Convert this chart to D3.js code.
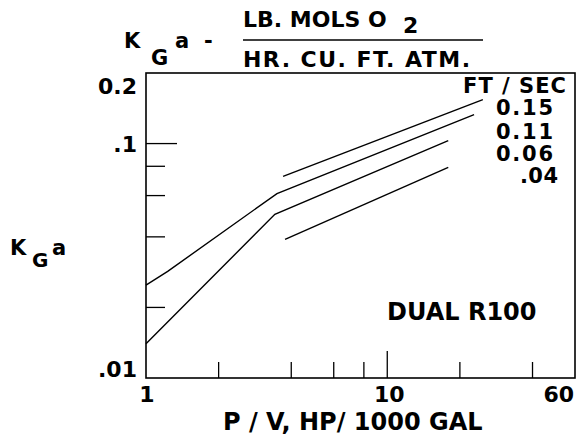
<!DOCTYPE html>
<html>
<head>
<meta charset="utf-8">
<script src="https://cdn.jsdelivr.net/npm/d3@7"></script>
<style>
  body { margin: 0; background: #fff; }
  svg text { font-family: "DejaVu Sans", sans-serif; font-weight: bold; fill: #000; }
</style>
</head>
<body>
<script>
// gas velocity, ft/sec
var velocities = ["0.15", "0.11", "0.06", ".04"];
// P/V (HP/1000 gal) vs KGa
var s015 = [[3.70, 0.0724], [24.9, 0.154]];
var s011 = [[1, 0.0249], [1.23, 0.0285], [3.49, 0.0612], [22.9, 0.133]];
var s006 = [[1, 0.0140], [3.42, 0.0499], [17.9, 0.103]];
var s004 = [[3.77, 0.0390], [17.9, 0.0791]];
var series = [s015, s011, s006, s004];

var xTicks = [2, 4, 6, 8, 10, 20, 40],
    yTicks = [0.02, 0.04, 0.06, 0.08, 0.1];
var xLabelVals = [1, 10, 60],
    xLabelText = ["1", "10", "60"];
var yLabelVals = [0.2, 0.1, 0.01],
    yLabelText = ["0.2", ".1", ".01"];

var width = 581, height = 438;
var plot = {left: 146, right: 575, top: 73, bottom: 378};

var svg = d3.select("body").append("svg")
    .attr("width", width).attr("height", height);

var x = d3.scaleLog().domain([1, 60]).range([plot.left, plot.right]);
var y = d3.scaleLog().domain([0.01, 0.2]).range([plot.bottom, plot.top]);

// frame
svg.append("rect")
    .attr("x", plot.left).attr("y", plot.top)
    .attr("width", plot.right - plot.left).attr("height", plot.bottom - plot.top)
    .attr("fill", "none").attr("stroke", "#000").attr("stroke-width", 1.6);

// inward ticks
svg.append("g").selectAll("line").data(xTicks).enter().append("line")
    .attr("x1", function(d){ return x(d); }).attr("x2", function(d){ return x(d); })
    .attr("y1", plot.bottom)
    .attr("y2", function(d){ return plot.bottom - (d === 10 ? 27 : 16); })
    .attr("stroke", "#000").attr("stroke-width", 1.3);

svg.append("g").selectAll("line").data(yTicks).enter().append("line")
    .attr("y1", function(d){ return y(d); }).attr("y2", function(d){ return y(d); })
    .attr("x1", plot.left)
    .attr("x2", function(d){ return plot.left + (d === 0.1 ? 31 : 19); })
    .attr("stroke", "#000").attr("stroke-width", 1.3);

// tick labels
svg.append("g").selectAll("text").data(xLabelVals).enter().append("text")
    .attr("x", function(d){ return x(d); })
    .attr("y", plot.bottom + 24)
    .attr("text-anchor", function(d, i){ return i === 2 ? "end" : "middle"; })
    .attr("dx", function(d, i){ return i === 2 ? -1 : (i === 0 ? 1 : 2); })
    .attr("font-size", 22)
    .text(function(d, i){ return xLabelText[i]; });

svg.append("g").selectAll("text").data(yLabelVals).enter().append("text")
    .attr("x", plot.left - 9)
    .attr("y", function(d){ return y(d); })
    .attr("dy", function(d, i){ return [21, 8, -1][i]; })
    .attr("text-anchor", "end")
    .attr("font-size", 22)
    .text(function(d, i){ return yLabelText[i]; });

// curves
var line = d3.line()
    .x(function(d){ return x(d[0]); })
    .y(function(d){ return y(d[1]); });

svg.append("g").selectAll("path").data(series).enter().append("path")
    .attr("d", line)
    .attr("fill", "none").attr("stroke", "#000").attr("stroke-width", 1.4);

// velocity labels
var legend = svg.append("g");
legend.append("text").attr("x", 463).attr("y", 93).attr("font-size", 21)
    .attr("textLength", 103).attr("lengthAdjust", "spacing").text("FT / SEC");
legend.selectAll("text.v").data(velocities).enter().append("text")
    .attr("class", "v")
    .attr("x", function(d, i){ return i === 3 ? 520 : 496; })
    .attr("y", function(d, i){ return [115, 139, 161, 183][i]; })
    .attr("font-size", 21)
    .attr("textLength", function(d, i){ return i === 3 ? 38 : 57; })
    .attr("lengthAdjust", "spacing")
    .text(function(d){ return d; });

svg.append("text").attr("x", 387).attr("y", 320).attr("font-size", 24).text("DUAL R100");

// axis titles
svg.append("text").attr("x", 223).attr("y", 430).attr("font-size", 24).text("P / V, HP/ 1000 GAL");

var yt = svg.append("g");
yt.append("text").attr("x", 10).attr("y", 255).attr("font-size", 21).text("K");
yt.append("text").attr("x", 32).attr("y", 267).attr("font-size", 20).text("G");
yt.append("text").attr("x", 52).attr("y", 255).attr("font-size", 21).text("a");

// units heading
var tt = svg.append("g");
tt.append("text").attr("x", 124).attr("y", 48).attr("font-size", 21).text("K");
tt.append("text").attr("x", 151).attr("y", 65).attr("font-size", 21).text("G");
tt.append("text").attr("x", 175).attr("y", 48).attr("font-size", 21).text("a");
tt.append("text").attr("x", 204).attr("y", 48).attr("font-size", 21).text("-");
tt.append("text").attr("x", 243).attr("y", 27).attr("font-size", 22).text("LB. MOLS O");
tt.append("text").attr("x", 403).attr("y", 33).attr("font-size", 22).text("2");
tt.append("line").attr("x1", 243).attr("x2", 483).attr("y1", 40).attr("y2", 40)
    .attr("stroke", "#000").attr("stroke-width", 1.6);
tt.append("text").attr("x", 243).attr("y", 67).attr("font-size", 22)
    .attr("textLength", 227).attr("lengthAdjust", "spacing")
    .text("HR. CU. FT. ATM.");
</script>
</body>
</html>
